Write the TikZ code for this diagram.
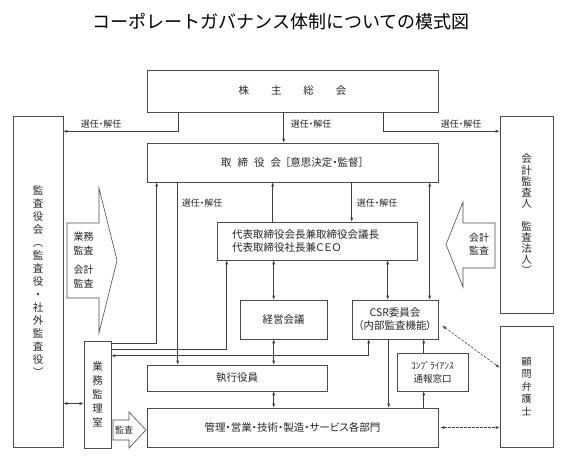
\documentclass[tikz,border=0pt]{standalone}
\usepackage{fontspec}
\setmainfont{Noto Sans CJK JP}
\newfontfamily\pfont{Noto Sans CJK JP}[RawFeature=+palt]
\usetikzlibrary{arrows.meta}

\tikzset{
  box/.style = {draw = black!70, line width = 0.6pt, inner sep = 0pt, align = center,
                text = black!85, font = \pfont\fontsize{10.5}{13}\selectfont},
  link/.style = {draw = black!75, line width = 0.6pt},
  tag/.style = {text = black!85, inner sep = 1pt, font = \pfont\fontsize{9}{10}\selectfont},
  bigarrow/.style = {draw = black!70, line width = 0.6pt, fill = white}
}

\begin{document}
\begin{tikzpicture}[x = 1pt, y = -1pt, >= {Latex[length = 4pt, width = 3pt]}]
  \useasboundingbox (0, 0) rectangle (565, 460);
  \node [text = black, font = \fontsize{18}{20}\selectfont] (title) at (281, 22) {コーポレートガバナンス体制についての模式図};

  % boxes
  \node [box, minimum width = 291pt, minimum height = 42pt] (kabu) at (292.5, 91) {株\hspace{22pt}主\hspace{22pt}総\hspace{22pt}会};
  \node [box, minimum width = 291pt, minimum height = 39pt] (tori) at (292.5, 162.5) {取\hspace{6pt}締\hspace{6pt}役\hspace{6pt}会\hspace{4pt}［意思決定・監督］};
  \node [box, minimum width = 200pt, minimum height = 38pt, text width = 170pt, align = left, font = \pfont\fontsize{10.5}{12.5}\selectfont] (daihyo) at (317, 241) {代表取締役会長兼取締役会議長\\代表取締役社長兼ＣＥＯ};
  \node [box, minimum width = 87pt, minimum height = 39pt] (keiei) at (283.5, 319.5) {経営会議};
  \node [box, minimum width = 86pt, minimum height = 39pt] (csr) at (395, 319.5) {CSR委員会\\（内部監査機能）};
  \node [box, minimum width = 71pt, minimum height = 38pt, font = \pfont\fontsize{9.5}{13}\selectfont] (comp) at (432.5, 372) {ｺﾝﾌﾟﾗｲｱﾝｽ\\通報窓口};
  \node [box, minimum width = 180pt, minimum height = 26pt] (shikko) at (237, 378) {執行役員};
  \node [box, minimum width = 291pt, minimum height = 39pt] (kanri) at (292.5, 427.5) {管理・営業・技術・製造・サービス各部門};
  \node [box, minimum width = 50pt, minimum height = 331pt] (kansa) at (38, 281.5) {監\\査\\役\\会\\︵\\監\\査\\役\\・\\社\\外\\監\\査\\役\\︶};
  \node [box, minimum width = 53pt, minimum height = 197pt, font = \pfont\fontsize{10.5}{11.2}\selectfont] (kaikei) at (526.5, 214.5) {会\\計\\監\\査\\人\\　\\監\\査\\法\\人\\︶};
  \node [box, minimum width = 53pt, minimum height = 121pt, font = \pfont\fontsize{10}{12.5}\selectfont] (komon) at (526.5, 386.5) {顧\\問\\弁\\護\\士};
  \node [box, minimum width = 27pt, minimum height = 107pt, font = \pfont\fontsize{10.5}{14}\selectfont] (gyomu) at (97.5, 394.5) {業\\務\\監\\理\\室};

  % audit arrows
  \draw [bigarrow] (67, 223) -- (99, 223) -- (99, 188) -- (117, 260.5) -- (99, 333) -- (99, 298) -- (67, 298) -- cycle;
  \node [text = black!85, align = center, font = \pfont\fontsize{10}{14}\selectfont] (naibu) at (83.5, 260.5) {業務\\監査\\[5pt]会計\\監査};
  \draw [bigarrow] (495, 223) -- (463, 223) -- (463, 202) -- (446, 244.5) -- (463, 287) -- (463, 268) -- (495, 268) -- cycle;
  \node [text = black!85, align = center, font = \pfont\fontsize{10}{12.5}\selectfont] (gaibu) at (479, 244) {会計\\監査};
  \draw [bigarrow] (113, 420) -- (129, 420) -- (129, 412) -- (146, 430) -- (129, 448) -- (129, 440) -- (113, 440) -- cycle;
  \node [text = black!85, font = \pfont\fontsize{9}{10}\selectfont] (kansaya) at (124, 430) {監査};

  % election lines
  \draw [->, link] ([xshift = 32pt] kabu.south west) -- ++(0, 19) coordinate (j1) -- (j1 -| kansa.east);
  \draw [->, link] ([xshift = 137pt] kabu.south west) -- ([xshift = 137pt] tori.north west);
  \draw [->, link] ([xshift = 237pt] kabu.south west) -- ++(0, 19) coordinate (j3) -- (j3 -| kaikei.west);
  \node [tag] (sel1) at (101, 124) {選任・解任};
  \node [tag] (sel2) at (311, 124) {選任・解任};
  \node [tag] (sel3) at (461, 124) {選任・解任};
  \draw [->, link] ([xshift = 31pt] tori.south west) -- ([xshift = 31pt] shikko.north west);
  \draw [->, link] ([xshift = 205pt] tori.south west) -- ([xshift = 135pt] daihyo.north west);
  \node [tag] (sel4) at (202, 203) {選任・解任};
  \node [tag] (sel5) at (377, 203) {選任・解任};

  % reporting lines
  \draw [->, link] ([yshift = -3pt] gyomu.north east) -| ([xshift = 10pt] tori.south west);
  \draw [->, link] ([yshift = -9pt] gyomu.north east) -| ([xshift = 10pt] daihyo.south west);
  \draw [<->, link] ([xshift = 17pt] csr.south west) |- ([yshift = -15pt] gyomu.north east);
  \draw [->, link] ([xshift = 56pt] daihyo.north west) -- ([xshift = 126pt] tori.south west);
  \draw [<->, link] ([xshift = 57pt] daihyo.south west) -- ([xshift = 34pt] keiei.north west);
  \draw [<->, link] ([xshift = 171pt] daihyo.south west) -- ([xshift = 36pt] csr.north west);
  \draw [<->, link] ([xshift = 283pt] tori.south west) -- ([xshift = 78pt] csr.north west);
  \draw [<->, link] ([xshift = 34pt] keiei.south west) -- ([xshift = 127pt] shikko.north west);
  \draw [<->, link] ([xshift = 127pt] shikko.south west) -- ([xshift = 127pt] kanri.north west);
  \draw [->, link] ([xshift = 37pt] csr.south west) -- ([xshift = 242pt] kanri.north west);
  \draw [->, link] ([xshift = 277pt] kanri.north west) -- ([xshift = 27pt] comp.south west);
  \draw [->, link] ([xshift = 27pt] comp.north west) -- ([xshift = 72pt] csr.south west);
  \draw [<->, link] ([yshift = -9pt] gyomu.west) coordinate (g1) -- (g1 -| kansa.east);

  % lawyer
  \draw [<->, link, dash pattern = on 2.5pt off 1.5pt] ([xshift = 4pt, yshift = -26pt] csr.north east) -- ([yshift = -42pt] komon.north west);
  \draw [<->, link, dash pattern = on 2.5pt off 1.5pt] ([xshift = 2pt] kanri.east) -- (kanri.east -| komon.west);
\end{tikzpicture}
\end{document}
